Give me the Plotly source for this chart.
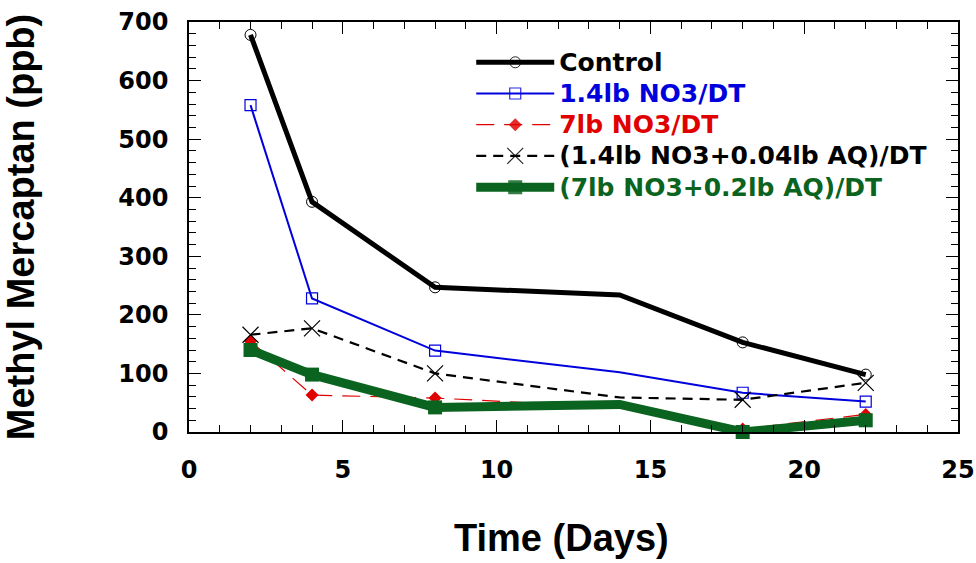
import plotly.graph_objects as go

days = [2, 4, 8, 14, 18, 22]
control = [678, 393, 247, 234, 153, 98]
no3_14 = [558, 228, 139, 102, 67, 52]
no3_7 = [155, 63, 58, 42, 5, 30]
no3_14_aq = [166, 177, 100, 59, 55, 84]
no3_7_aq = [140, 98, 42, 47, 0, 20]
marker_shown = [1, 1, 1, 0, 1, 1]

names = ["Control", "1.4lb NO3/DT", "7lb NO3/DT",
         "(1.4lb NO3+0.04lb AQ)/DT", "(7lb NO3+0.2lb AQ)/DT"]

BLUE = "#0000dd"
RED = "#e00000"
GREEN = "#0b6320"
text_colors = ["black", BLUE, RED, "black", GREEN]
labels = [f"<span style='color:{c};font-size:25px'>{n}</span>" for n, c in zip(names, text_colors)]

fig = go.Figure()
fig.add_trace(go.Scatter(
    x=days, y=control, name=labels[0], mode="lines+markers",
    line=dict(color="black", width=5),
    marker=dict(symbol="circle-open", size=11, color="black", opacity=marker_shown,
                line=dict(width=1, color="black")),
    cliponaxis=False))
fig.add_trace(go.Scatter(
    x=days, y=no3_14, name=labels[1], mode="lines+markers",
    line=dict(color=BLUE, width=2),
    marker=dict(symbol="square-open", size=11, color=BLUE, opacity=marker_shown,
                line=dict(width=1.2, color=BLUE)),
    cliponaxis=False))
fig.add_trace(go.Scatter(
    x=days, y=no3_7, name=labels[2], mode="lines+markers",
    line=dict(color=RED, width=1.2, dash="18px,10px"),
    marker=dict(symbol="diamond", size=10, color=RED, opacity=marker_shown),
    cliponaxis=False))
fig.add_trace(go.Scatter(
    x=days, y=no3_14_aq, name=labels[3], mode="lines+markers",
    line=dict(color="black", width=2.2, dash="10px,7px"),
    marker=dict(symbol="x-thin-open", size=16, color="black", opacity=marker_shown,
                line=dict(width=1.2, color="black")),
    cliponaxis=False))
fig.add_trace(go.Scatter(
    x=days, y=no3_7_aq, name=labels[4], mode="lines+markers",
    line=dict(color=GREEN, width=9),
    marker=dict(symbol="square", size=14, color=GREEN, opacity=marker_shown),
    cliponaxis=False))

tickfont = dict(family="DejaVu Sans", size=24, color="black", weight="bold")
titlefont = dict(family="Liberation Sans", size=38, color="black", weight="bold")

fig.update_layout(
    width=976, height=563,
    margin=dict(l=189, r=18, t=22, b=131),
    paper_bgcolor="white", plot_bgcolor="white",
    showlegend=True,
    legend=dict(
        x=0.367, y=0.952, xanchor="left", yanchor="top",
        bgcolor="rgba(0,0,0,0)", borderwidth=0,
        font=dict(family="DejaVu Sans", size=21.7, weight="bold", color="black"),
        tracegroupgap=0, itemwidth=78,
    ),
    xaxis=dict(
        range=[0, 25], tick0=0, dtick=5, ticks="inside", ticklen=12, tickwidth=1,
        tickcolor="black", showline=True, linecolor="black", linewidth=1.5,
        mirror="allticks", showgrid=False, zeroline=False,
        minor=dict(dtick=1, ticks="inside", ticklen=7, tickwidth=1, tickcolor="black", showgrid=False),
        tickfont=tickfont, ticklabelstandoff=15,
        automargin=False,
    ),
    yaxis=dict(
        range=[0, 700], tick0=0, dtick=100, ticks="inside", ticklen=12, tickwidth=1,
        tickcolor="black", showline=True, linecolor="black", linewidth=1.5,
        mirror="allticks", showgrid=False, zeroline=False,
        minor=dict(dtick=20, ticks="inside", ticklen=7, tickwidth=1, tickcolor="black", showgrid=False),
        tickfont=tickfont, ticklabelstandoff=14,
        title=dict(text="Methyl Mercaptan (ppb)", font=titlefont, standoff=80),
        automargin=False,
    ),
    annotations=[dict(
        text="Time (Days)", xref="paper", yref="paper", x=0.485, y=-0.2585,
        xanchor="center", yanchor="middle", showarrow=False, font=titlefont,
    )],
)

fig.write_html("out.html", config={"displayModeBar": False},
               post_script="document.body.style.margin='0';")
